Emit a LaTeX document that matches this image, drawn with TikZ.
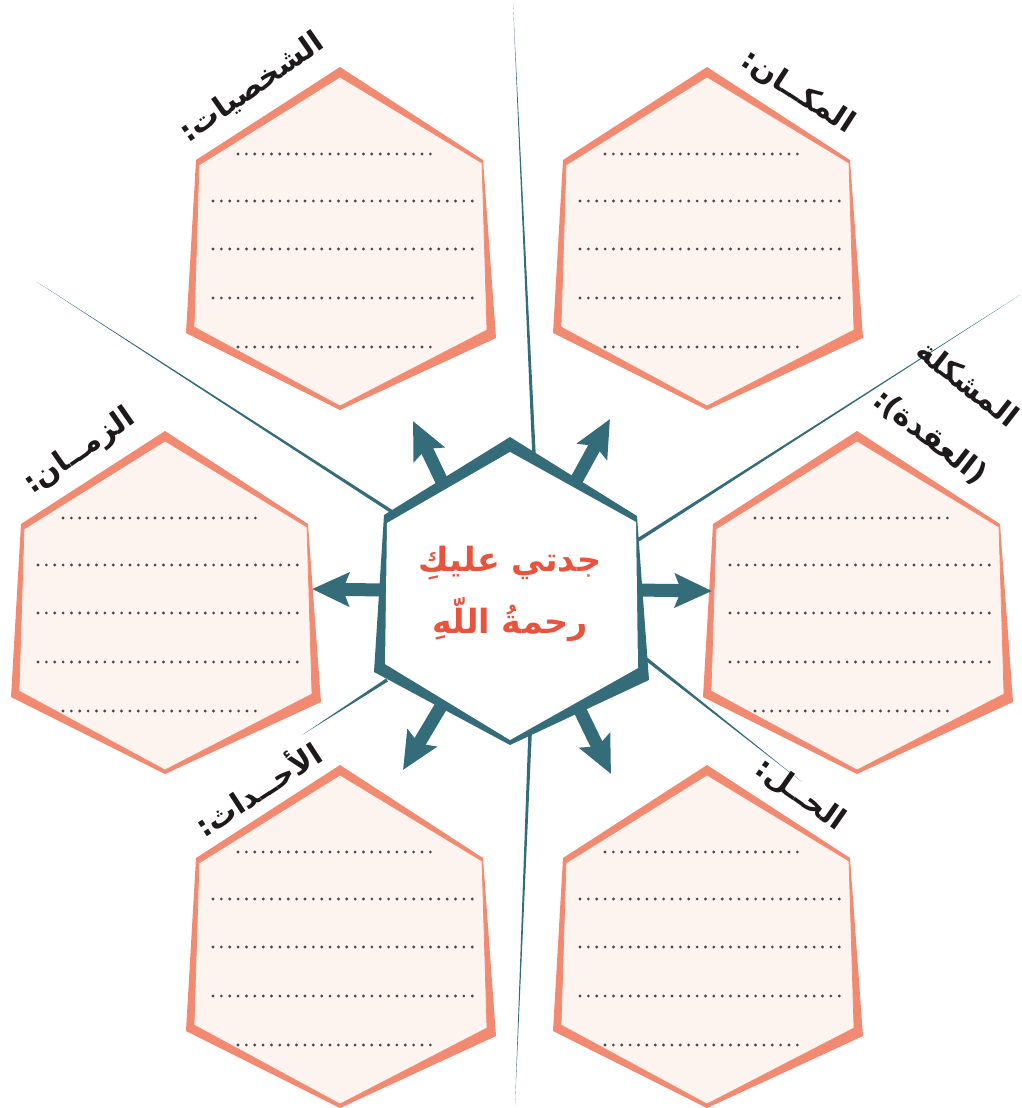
\documentclass[tikz,border=0pt]{standalone}
\usepackage{fontspec}
\newfontfamily\arabicfont[Script=Arabic]{DejaVu Sans}
\TeXXeTstate=1
\usetikzlibrary{arrows.meta,calc}

\definecolor{petalline}{HTML}{F28A72}
\definecolor{petalfill}{HTML}{FDF3EF}
\definecolor{hubteal}{HTML}{356C7A}
\definecolor{hubtext}{HTML}{E9533E}
\definecolor{dotgray}{HTML}{4A4A4A}
\definecolor{titleink}{HTML}{1E1A1B}

\begin{document}
\begin{tikzpicture}[x=0.02cm,y=-0.02cm,line cap=round,line join=round,
    petal/.style={fill=petalfill,draw=petalline,line width=.4pt},
    writeline/.style={dotgray,line width=1.8pt,dash pattern=on 0pt off 4.76pt},
    spoke/.style={hubteal,line width=7.4pt,line cap=butt,
      -{Stealth[length=21pt,width=19pt,inset=3.5pt]}},
    petaltitle/.style={font=\arabicfont\bfseries\fontsize{17}{35}\selectfont,
      text=titleink,inner sep=0pt},
    hubtitle/.style={font=\arabicfont\bfseries\fontsize{19}{35}\selectfont,
      text=hubtext,inner sep=0pt,align=center}]
    \useasboundingbox (0,0) rectangle (1021,1108);

    % The thin rays, thick at the hub and fading to a point.
    \foreach \ix/\iy/\ox/\oy [count=\k] in {534/455/513/3, 397/515/37/282,
        638/540/1020/295, 387/680/302/735, 645/658/802/782, 530/735/515/1105} {
      \coordinate (ray\k-in) at (\ix,\iy);
      \coordinate (ray\k-out) at (\ox,\oy);
      \fill[hubteal] ($(ray\k-in)!1pt!90:(ray\k-out)$)
        -- ($(ray\k-in)!1pt!-90:(ray\k-out)$) -- (ray\k-out) -- cycle;
    }

    % The six petals with their dotted writing lines.
    \foreach \name/\cx/\cy in {cast/340/238, place/707/238, time/165/602,
        knot/857/602, events/340/936, ending/707/936} {
      \begin{scope}[shift={(\cx,\cy)}]
        \coordinate (\name) at (0,0);
        \fill[petalline] (0,-171) -- (143,-78) -- (156,100) -- (0,172)
          -- (-154,95) -- (-144,-78) -- cycle;
        \filldraw[petal] (0,-161) -- (142,-75) -- (147,92) -- (0,168)
          -- (-146,89) -- (-141,-73) -- cycle;
        \draw[writeline] (-102,-84) -- (95,-84);
        \foreach \dy in {-37,11,60}
          \draw[writeline] (-127,\dy) -- (135,\dy);
        \draw[writeline] (-102,109) -- (95,109);
      \end{scope}
    }

    % The arrows leaving the hub.
    \foreach \sx/\sy/\ex/\ey [count=\k] in {447/492/413/421, 571/490/610/419,
        384/590/312/589, 636/590/712/591, 446/698/403/770, 574/698/611/774} {
      \coordinate (spoke\k-s) at (\sx,\sy);
      \coordinate (spoke\k-e) at (\ex,\ey);
      \draw[spoke] (spoke\k-s) -- (spoke\k-e);
    }

    % The hub.
    \fill[hubteal] (510,437) -- (637,516) -- (649,680) -- (510,745)
      -- (374,672) -- (384,515) -- cycle;
    \fill[white] (510,452) -- (636,522) -- (638,668) -- (510,740)
      -- (385,664) -- (387,523) -- cycle;
    \node[hubtitle] (hub) at (510,594)
      {\beginR جدتي عليكِ\endR\\\beginR رحمةُ اللّهِ\endR};

    % Titles of the petals.
    \node[petaltitle,rotate=35] (cast-title) at (252,88) {\beginR الشخصيات:\endR};
    \node[petaltitle,rotate=-33] (place-title) at (798,92) {\beginR المكــان:\endR};
    \node[petaltitle,rotate=-38] (knot-title-a) at (968,383) {\beginR المشكلة\endR};
    \node[petaltitle,rotate=-38] (knot-title-b) at (930,437) {\beginR (العقدة):\endR};
    \node[petaltitle,rotate=35] (time-title) at (80,452) {\beginR الزمــان:\endR};
    \node[petaltitle,rotate=33] (events-title) at (257,788) {\beginR الأحــداث:\endR};
    \node[petaltitle,rotate=-35] (ending-title) at (800,795) {\beginR الحــل:\endR};
  \end{tikzpicture}
\end{document}
